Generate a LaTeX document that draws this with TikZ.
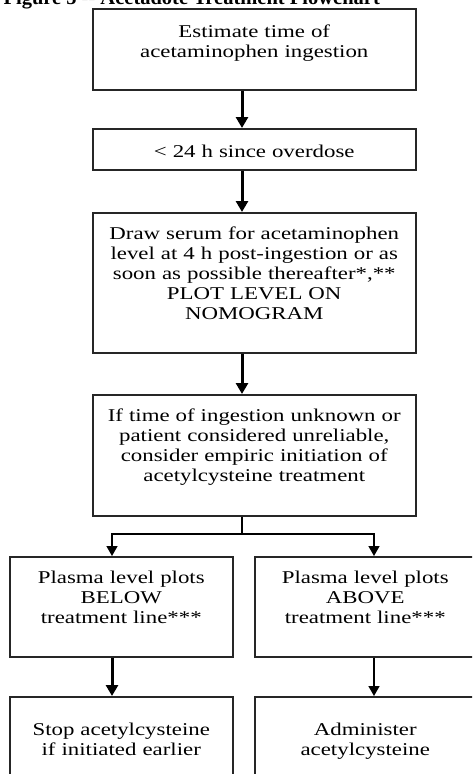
\documentclass[tikz,border=0pt]{standalone}
\usepackage{fontspec}
\setmainfont{Liberation Serif}[FakeStretch=1.27]
\newfontfamily\titlefont{Liberation Serif}
\usetikzlibrary{arrows.meta}

\begin{document}
\begin{tikzpicture}[x=1pt, y=-1pt,
    flowbox/.style={draw=black!85, line width=1.5pt, inner sep=0pt, align=center,
      anchor=north west, font=\fontsize{18}{20}\selectfont},
    mainarrow/.style={line width=3pt, -{Triangle[width=12pt,length=11pt]}},
    thinarrow/.style={line width=1.6pt, -{Triangle[width=11pt,length=10pt]}},
    branchline/.style={line width=1.4pt}]
    \useasboundingbox (0,0) rectangle (472,774);
    \clip (0,0) rectangle (472,774);
    \fill[white] (0,0) rectangle (472,774);

    \node[anchor=base west, font=\titlefont\bfseries\fontsize{20.5}{22}\selectfont] (title) at (0,4.5)
      {Figure 5 -- Acetadote Treatment Flowchart};

    \node[flowbox, text width=323pt, text height=29pt, text depth=52pt] (est) at (92,8)
      {Estimate time of\\acetaminophen ingestion};
    \node[flowbox, text width=323pt, text height=29pt, text depth=12pt] (cut) at (92,128)
      {< 24 h since overdose};
    \node[flowbox, text width=323pt, text height=27pt, text depth=113pt] (serum) at (92,212)
      {Draw serum for acetaminophen\\level at 4 h post-ingestion or as\\soon as possible thereafter*,**\\PLOT LEVEL ON\\NOMOGRAM};
    \node[flowbox, text width=323pt, text height=27pt, text depth=94pt] (unknown) at (92,394)
      {If time of ingestion unknown or\\patient considered unreliable,\\consider empiric initiation of\\acetylcysteine treatment};

    \node[flowbox, text width=223pt, text height=27pt, text depth=73pt] (below) at (9,556)
      {Plasma level plots\\BELOW\\treatment line***};
    \node[flowbox, text width=221pt, text height=27pt, text depth=73pt] (above) at (254,556)
      {Plasma level plots\\ABOVE\\treatment line***};
    \node[flowbox, text width=223pt, text height=39pt, text depth=100pt] (stop) at (9,696)
      {Stop acetylcysteine\\if initiated earlier};
    \node[flowbox, text width=221pt, text height=39pt, text depth=100pt] (admin) at (254,696)
      {Administer\\acetylcysteine};

    \coordinate (spine) at (242,0);
    \coordinate (lft) at (112,0);
    \coordinate (rgt) at (374,0);
    \coordinate (fork) at (242,534);

    \draw[mainarrow] (est.south -| spine) -- (cut.north -| spine);
    \draw[mainarrow] (cut.south -| spine) -- (serum.north -| spine);
    \draw[mainarrow] (serum.south -| spine) -- (unknown.north -| spine);

    \draw[branchline] (unknown.south -| spine) -- (fork);
    \draw[branchline, -{Triangle[width=11pt,length=10pt]}] (fork) -| (below.north -| lft);
    \draw[branchline, -{Triangle[width=11pt,length=10pt]}] (fork) -| (above.north -| rgt);

    \draw[mainarrow] (below.south -| lft) -- (stop.north -| lft);
    \draw[thinarrow] (above.south -| rgt) -- (admin.north -| rgt);
\end{tikzpicture}
\end{document}
